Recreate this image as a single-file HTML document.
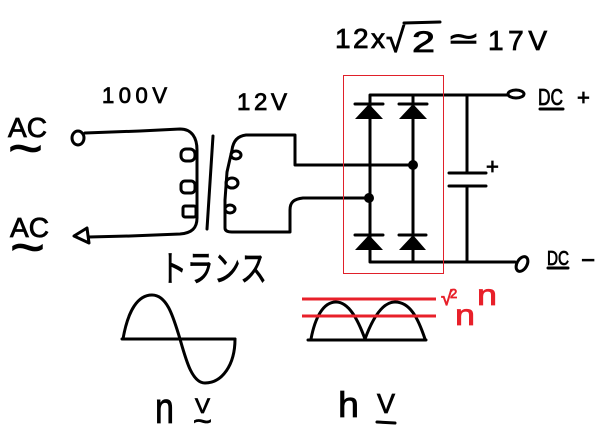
<!DOCTYPE html>
<html><head><meta charset="utf-8">
<style>html,body{margin:0;padding:0;background:#fff}svg{display:block}</style>
</head>
<body>
<svg xmlns="http://www.w3.org/2000/svg" width="614" height="436" viewBox="0 0 614 436">
<rect width="614" height="436" fill="#fff"/>
<g fill="none" stroke="#000" stroke-width="3" stroke-linecap="round" stroke-linejoin="round">
  <!-- primary winding -->
  <ellipse cx="78" cy="138" rx="6" ry="7"/>
  <path d="M85,133 L140,131 L180,129 C192,129 197,138 197,150 L197,218 C197,228 192,233 180,234 L130,236 L89,237"/>
  <path d="M74,236 L87,228 L89,243 Z"/>
  <rect x="181" y="149" width="14" height="12" rx="5"/>
  <rect x="181" y="181" width="14" height="12" rx="4"/>
  <rect x="183" y="206" width="13" height="11" rx="2"/>
  <!-- core -->
  <path d="M213,136 L207,229"/>
  <!-- secondary winding -->
  <path d="M413,165 L295,165 L295,135 L246,135 C237,136 233,142 232,150 L227,172 L225,200 L225,228 C225,231 228,232 232,232 L290,232 L290,210 C290,202 294,199 303,198 L369,198"/>
  <ellipse cx="236" cy="155" rx="5" ry="4"/>
  <ellipse cx="232" cy="183" rx="6" ry="5"/>
  <ellipse cx="230" cy="209" rx="5" ry="4"/>
  <!-- bridge -->
  <path d="M508,95 L370,95 L370,262 L515,262"/>
  <path d="M413,95 L413,262"/>
  <path d="M355,104 L383,104 M399,104 L427,104"/>
  <path d="M355,235 L383,235 M399,235 L426,235"/>
  <!-- capacitor -->
  <path d="M467,95 L467,173 M467,186 L467,262 M449,173 L486,173 M449,186 L486,186"/>
  <!-- terminals -->
  <ellipse cx="516" cy="94" rx="8" ry="4"/>
  <ellipse cx="522" cy="264" rx="5" ry="8" transform="rotate(30 522 264)"/>
  <!-- sqrt overline -->
  <path d="M404,23 L440,22"/>
  <!-- underlines -->
  <path d="M540,109 L563,109"/>
  <path d="M548,268 L568,268"/>
  <path d="M377,422 L395,423"/>
  <!-- waveforms -->
  <path d="M122,339 L235,339"/>
  <path d="M123,339 C128,310 138,295 152,295 C168,295 174,320 180,339 C186,360 192,383 205,383 C222,383 235,365 235,339"/>
  <path d="M308,340 L426,340"/>
  <path d="M311,339 C315,318 323,302 336,302 C349,302 358,320 365,339 C372,320 382,302 395,302 C410,302 418,318 425,339"/>
</g>
<g fill="#000">
  <polygon points="369,104 355,119 383,119"/>
  <polygon points="413,104 399,119 427,119"/>
  <polygon points="369,235 355,250 383,250"/>
  <polygon points="413,235 399,250 426,250"/>
  <circle cx="413" cy="165" r="5"/>
  <circle cx="369" cy="198" r="5"/>
</g>
<rect x="343.5" y="75.5" width="100" height="198" fill="none" stroke="#e0202a" stroke-width="1"/>
<g stroke="#e8202a" stroke-width="3">
  <path d="M302,299 L436,299 M302,316 L436,316"/>
</g>
<g font-family="'Liberation Sans','DejaVu Sans',sans-serif" fill="#000" stroke="#000" stroke-width="0.8">
  <text x="8" y="137" font-size="28" textLength="39" lengthAdjust="spacingAndGlyphs">AC</text>
  <text x="8" y="167" font-size="56" textLength="35" lengthAdjust="spacingAndGlyphs">~</text>
  <text x="10" y="237" font-size="28" textLength="39" lengthAdjust="spacingAndGlyphs">AC</text>
  <text x="10" y="266" font-size="56" textLength="35" lengthAdjust="spacingAndGlyphs">~</text>
  <text x="102" y="103" font-size="22" textLength="65" lengthAdjust="spacing">100V</text>
  <text x="237" y="110" font-size="24" textLength="50" lengthAdjust="spacing">12V</text>
  <text x="335" y="48" font-size="28" textLength="50" lengthAdjust="spacing">12x</text>
  <text x="386" y="52" font-size="34" textLength="19" lengthAdjust="spacingAndGlyphs">√</text>
  <text x="412" y="52" font-size="30" textLength="23" lengthAdjust="spacingAndGlyphs">2</text>
  <text x="447" y="48" font-size="28" textLength="33" lengthAdjust="spacingAndGlyphs">≃</text>
  <text x="488" y="50" font-size="28" textLength="59" lengthAdjust="spacing">17V</text>
  <text x="538" y="105" font-size="23" textLength="25" lengthAdjust="spacingAndGlyphs">DC</text>
  <text x="577" y="105" font-size="22">+</text>
  <text x="547" y="265" font-size="20" textLength="22" lengthAdjust="spacingAndGlyphs">DC</text>
  <text x="581" y="268" font-size="24">−</text>
  <text x="486" y="174" font-size="22">+</text>
  <text x="155" y="423" font-size="44" textLength="19" lengthAdjust="spacingAndGlyphs">n</text>
  <text x="195" y="413" font-size="21" textLength="15" lengthAdjust="spacingAndGlyphs">V</text>
  <text x="193" y="431" font-size="30" textLength="19" lengthAdjust="spacingAndGlyphs">~</text>
  <text x="338" y="417" font-size="36" textLength="21" lengthAdjust="spacingAndGlyphs">h</text>
  <text x="377" y="413" font-size="28" textLength="18" lengthAdjust="spacingAndGlyphs">V</text>
  <text x="160" y="281" font-family="'Liberation Sans','Noto Sans CJK JP',sans-serif" font-size="36" textLength="107" lengthAdjust="spacingAndGlyphs">トランス</text>
</g>
<g font-family="'Liberation Sans','DejaVu Sans',sans-serif" fill="#e8202a" stroke="#e8202a" stroke-width="0.8">
  <text x="441" y="305" font-size="20" textLength="11" lengthAdjust="spacingAndGlyphs">√</text>
  <text x="450" y="298" font-size="13">2</text>
  <text x="477" y="305" font-size="30" textLength="20" lengthAdjust="spacingAndGlyphs">n</text>
  <text x="455" y="325" font-size="30" textLength="20" lengthAdjust="spacingAndGlyphs">n</text>
</g>
</svg>
</body></html>
